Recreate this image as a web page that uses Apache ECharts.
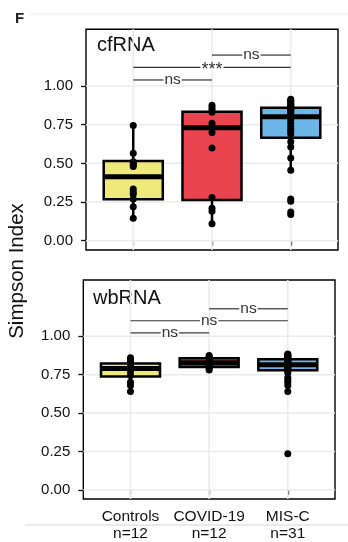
<!DOCTYPE html>
<html><head><meta charset="utf-8">
<script src="https://cdn.jsdelivr.net/npm/echarts@6/dist/echarts.min.js"></script>
<style>html,body{margin:0;padding:0;background:#fff}#c{width:348px;height:542px}</style>
</head><body><div id="c"></div>
<script>
// ---------- data ----------
const categories = ['Controls', 'COVID-19', 'MIS-C'];
const groupSizes = ['n=12', 'n=12', 'n=31'];
const yTicks = [0, 0.25, 0.5, 0.75, 1.0];
const xTicks = [1, 2, 3];
const panelNames = ['cfRNA', 'wbRNA'];

// cfRNA raw values
const cfControls = [0.745, 0.565, 0.51, 0.50, 0.49, 0.48, 0.335, 0.315, 0.30, 0.27, 0.22, 0.145];
const cfCovid = [0.875, 0.86, 0.845, 0.83, 0.76, 0.74, 0.70, 0.60, 0.28, 0.21, 0.19, 0.11];
const cfMisc = [0.915, 0.905, 0.90, 0.89, 0.88, 0.875, 0.87, 0.865, 0.855, 0.85, 0.845, 0.84, 0.83, 0.82, 0.81,
  0.802, 0.795, 0.78, 0.76, 0.74, 0.72, 0.705, 0.69, 0.64, 0.605, 0.535, 0.455, 0.27, 0.255, 0.185, 0.17];
// wbRNA raw values
const wbControls = [0.86, 0.845, 0.83, 0.81, 0.80, 0.79, 0.785, 0.77, 0.745, 0.70, 0.68, 0.64];
const wbCovid = [0.875, 0.865, 0.86, 0.85, 0.84, 0.835, 0.825, 0.82, 0.81, 0.80, 0.79, 0.78];
const wbMisc = [0.885, 0.88, 0.875, 0.87, 0.865, 0.86, 0.855, 0.852, 0.848, 0.845, 0.84, 0.835, 0.83, 0.825, 0.82,
  0.815, 0.812, 0.81, 0.805, 0.80, 0.795, 0.79, 0.78, 0.775, 0.76, 0.73, 0.715, 0.70, 0.68, 0.64, 0.235];

// box stats: [whiskerLow, q1, median, q3, whiskerHigh]
const cfBoxControls = [0.145, 0.268, 0.414, 0.515, 0.745];
const cfBoxCovid = [0.11, 0.263, 0.730, 0.834, 0.875];
const cfBoxMisc = [0.455, 0.666, 0.802, 0.860, 0.915];
const wbBoxControls = [0.64, 0.738, 0.79, 0.822, 0.86];
const wbBoxCovid = [0.78, 0.80, 0.828, 0.857, 0.875];
const wbBoxMisc = [0.68, 0.778, 0.815, 0.85, 0.885];

// significance brackets: [fromGroup, toGroup, height]
const cfSigPos = [[1, 2, 1.039], [1, 3, 1.121], [2, 3, 1.200]];
const cfSigLabels = ['ns', '***', 'ns'];
const wbSigPos = [[1, 2, 1.022], [1, 3, 1.101], [2, 3, 1.179]];
const wbSigLabels = ['ns', 'ns', 'ns'];

// ---------- styles ----------
const FONT = '"Liberation Sans", Arial, Helvetica, sans-serif';
const fills = ['#EFE97B', '#E9444F', '#6DB7E8'];
const ink = '#111';
const halfW = 0.375;
const sigFontSize = 15.5;

const measureCtx = document.createElement('canvas').getContext('2d');
function textWidth(s, size) { measureCtx.font = size + 'px ' + FONT; return measureCtx.measureText(s).width; }

function gridRender(params, api) {
  const cs = params.coordSys;
  const ch = [];
  yTicks.forEach(v => {
    const y = api.coord([1, v])[1];
    ch.push({ type: 'line', shape: { x1: cs.x, y1: y, x2: cs.x + cs.width, y2: y }, style: { stroke: '#EBEBEB', lineWidth: 1.5 } });
  });
  xTicks.forEach(v => {
    const x = api.coord([v, 0])[0];
    ch.push({ type: 'line', shape: { x1: x, y1: cs.y, x2: x, y2: cs.y + cs.height }, style: { stroke: '#EBEBEB', lineWidth: 1.5 } });
  });
  return { type: 'group', children: ch };
}

function boxRender(params, api) {
  const x = api.value(0);
  const lo = api.value(1), q1 = api.value(2), md = api.value(3), q3 = api.value(4), hi = api.value(5);
  const pLo = api.coord([x, lo]), pHi = api.coord([x, hi]);
  const pQ1 = api.coord([x - halfW, q1]), pQ3 = api.coord([x + halfW, q3]);
  const pMdL = api.coord([x - halfW, md]), pMdR = api.coord([x + halfW, md]);
  const cx = pLo[0];
  return {
    type: 'group', children: [
      { type: 'line', shape: { x1: cx, y1: pQ3[1], x2: cx, y2: pHi[1] }, style: { stroke: '#000', lineWidth: 2.5 } },
      { type: 'line', shape: { x1: cx, y1: pQ1[1], x2: cx, y2: pLo[1] }, style: { stroke: '#000', lineWidth: 2.5 } },
      { type: 'rect', shape: { x: pQ1[0], y: pQ3[1], width: pQ3[0] - pQ1[0], height: pQ1[1] - pQ3[1] },
        style: { fill: fills[params.dataIndex], stroke: '#000', lineWidth: 2.5 } },
      { type: 'line', shape: { x1: pMdL[0], y1: pMdL[1], x2: pMdR[0], y2: pMdR[1] }, style: { stroke: '#000', lineWidth: 5 } }
    ]
  };
}

function sigRender(labels) {
  return function (params, api) {
    const x1 = api.value(0), x2 = api.value(1), h = api.value(2);
    const p1 = api.coord([x1, h]), p2 = api.coord([x2, h]);
    const lab = labels[params.dataIndex];
    const fs = lab === '***' ? 18 : sigFontSize;
    const w = textWidth(lab, fs) + 2;
    const mx = (p1[0] + p2[0]) / 2, y = p1[1];
    return {
      type: 'group', children: [
        { type: 'line', shape: { x1: p1[0], y1: y, x2: mx - w / 2, y2: y }, style: { stroke: '#333', lineWidth: 1.2 } },
        { type: 'line', shape: { x1: mx + w / 2, y1: y, x2: p2[0], y2: y }, style: { stroke: '#333', lineWidth: 1.2 } },
        { type: 'text', x: mx, y: y + (lab === '***' ? 2.5 : 0),
          style: { text: lab, fontSize: fs, fontFamily: FONT, fill: '#333', align: 'center', verticalAlign: 'middle' } }
      ]
    };
  };
}

function pts(vals, g) { return vals.map(v => [g, v]); }

const grids = [
  { left: 86, top: 29.3, width: 252, height: 220.7 },
  { left: 83.3, top: 280, width: 251.7, height: 221 }
].map(g => Object.assign(g, { show: true, backgroundColor: '#fff', borderColor: '#000', borderWidth: 1.4, containLabel: false }));

function yAx(i) {
  return {
    type: 'value', gridIndex: i, min: -0.06, max: 1.3665,
    axisLine: { show: false }, splitLine: { show: false },
    axisTick: { show: true, customValues: yTicks, length: 5, lineStyle: { color: ink, width: 1.3 } },
    axisLabel: { customValues: yTicks, formatter: v => v.toFixed(2), fontSize: 15, color: ink, margin: 13, fontFamily: FONT }
  };
}
function xAx(i, showLabel) {
  return {
    type: 'value', gridIndex: i, min: 0.4, max: 3.6,
    axisLine: { show: false }, splitLine: { show: false },
    axisTick: { show: true, customValues: xTicks, length: 5, lineStyle: { color: ink, width: 1.3 } },
    axisLabel: {
      show: showLabel, customValues: xTicks,
      formatter: v => categories[Math.round(v) - 1] + '\n' + groupSizes[Math.round(v) - 1],
      fontSize: 15.5, lineHeight: 17, color: ink, margin: 9, fontFamily: FONT
    }
  };
}

const boxSets = [
  [cfBoxControls, cfBoxCovid, cfBoxMisc],
  [wbBoxControls, wbBoxCovid, wbBoxMisc]
];
const ptSets = [
  [cfControls, cfCovid, cfMisc],
  [wbControls, wbCovid, wbMisc]
];
const sigSets = [[cfSigPos, cfSigLabels], [wbSigPos, wbSigLabels]];

const series = [];
[0, 1].forEach(i => {
  series.push({ type: 'custom', xAxisIndex: i, yAxisIndex: i, renderItem: gridRender, data: [[1, 0]], z: 1, silent: true, clip: false });
  series.push({ type: 'custom', xAxisIndex: i, yAxisIndex: i, renderItem: boxRender,
    data: boxSets[i].map((b, k) => [k + 1].concat(b)), z: 2, clip: false,
    encode: { x: 0, y: [1, 2, 3, 4, 5] } });
  series.push({ type: 'scatter', xAxisIndex: i, yAxisIndex: i, symbolSize: 7, itemStyle: { color: '#000', opacity: 1 },
    data: [].concat(pts(ptSets[i][0], 1), pts(ptSets[i][1], 2), pts(ptSets[i][2], 3)), z: 3 });
  series.push({ type: 'custom', xAxisIndex: i, yAxisIndex: i, renderItem: sigRender(sigSets[i][1]),
    data: sigSets[i][0], z: 4, clip: false, encode: { x: [0, 1], y: 2 } });
});

const chart = echarts.init(document.getElementById('c'), null, { renderer: 'canvas' });
chart.setOption({
  animation: false,
  backgroundColor: '#fff',
  grid: grids,
  xAxis: [xAx(0, false), xAx(1, true)],
  yAxis: [yAx(0), yAx(1)],
  series: series,
  graphic: [
    { type: 'line', shape: { x1: 30, y1: 14, x2: 348, y2: 14 }, style: { stroke: '#ececec', lineWidth: 1 }, z: -1 },
    { type: 'line', shape: { x1: 25, y1: 525, x2: 348, y2: 525 }, style: { stroke: '#d4d4d4', lineWidth: 1 }, z: -1 },
    { type: 'text', left: 15, top: 11, style: { text: 'F', fontSize: 15, fontWeight: 'bold', fontFamily: FONT, fill: '#222' } },
    { type: 'text', x: 17, y: 271, rotation: Math.PI / 2,
      style: { text: 'Simpson Index', fontSize: 20.5, fontFamily: FONT, fill: ink, align: 'center', verticalAlign: 'middle' } },
    { type: 'text', x: 97, y: 45.5, style: { text: panelNames[0], fontSize: 20, fontFamily: FONT, fill: ink, align: 'left', verticalAlign: 'middle' } },
    { type: 'text', x: 93, y: 298, style: { text: panelNames[1], fontSize: 20, fontFamily: FONT, fill: ink, align: 'left', verticalAlign: 'middle' } }
  ]
});
</script></body></html>
